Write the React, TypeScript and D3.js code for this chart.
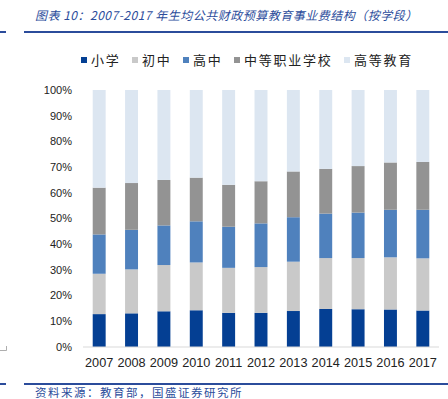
import React from 'react';
import * as d3 from 'd3';

const years = ['2007', '2008', '2009', '2010', '2011', '2012', '2013', '2014', '2015', '2016', '2017'];
const seriesNames = ['小学', '初中', '高中', '中等职业学校', '高等教育'];
const seriesColors = ['#043f93', '#c9c9c9', '#4f81bd', '#939393', '#dce6f1'];

// percent share of each level, per year
const primary = [12.8, 13.1, 13.9, 14.3, 13.3, 13.3, 14.0, 14.8, 14.7, 14.6, 14.2];
const juniorMid = [15.7, 17.1, 18.0, 18.6, 17.5, 17.8, 19.2, 19.8, 19.9, 20.3, 20.3];
const seniorHigh = [15.3, 15.4, 15.4, 16.0, 16.0, 17.0, 17.3, 17.3, 17.7, 18.5, 18.9];
const vocational = [18.2, 18.2, 17.7, 17.0, 16.3, 16.4, 17.8, 17.4, 18.1, 18.4, 18.6];
const higher = years.map((_, i) => 100 - primary[i] - juniorMid[i] - seniorHigh[i] - vocational[i]);

const yTicks = [0, 10, 20, 30, 40, 50, 60, 70, 80, 90, 100];

const titleText = '图表 10：2007-2017 年生均公共财政预算教育事业费结构（按学段）';
const sourceText = '资料来源：教育部，国盛证券研究所';

const W = 448;
const H = 399;
const margin = { top: 90, right: 9, bottom: 52, left: 83 };
const innerW = W - margin.left - margin.right;
const innerH = H - margin.top - margin.bottom;
const navy = '#2b4c9b';

const App = () => {
	const table = years.map((y, i) => ({
		year: y,
		[seriesNames[0]]: primary[i],
		[seriesNames[1]]: juniorMid[i],
		[seriesNames[2]]: seniorHigh[i],
		[seriesNames[3]]: vocational[i],
		[seriesNames[4]]: higher[i],
	}));
	const stacked = d3.stack<any>().keys(seriesNames)(table);

	const xScale = d3.scaleBand().domain(years).range([0, innerW]).paddingInner(0.6).paddingOuter(0.3);
	const yScale = d3.scaleLinear().domain([0, 100]).range([innerH, 0]);

	// legend layout
	const legendFont = 13;
	const legendSpacing = 1.75;
	let lx = 81;
	const legendItems = seriesNames.map((name, i) => {
		const item = { name, x: lx, color: seriesColors[i] };
		lx += 10 + name.length * (legendFont + legendSpacing) + 11.5;
		return item;
	});

	return (
		<svg
			width={W}
			height={H}
			style={{ position: 'absolute', left: 0, top: 0, background: '#fff' }}
			fontFamily="'Liberation Sans', Arial, sans-serif"
		>
			{/* title */}
			<text
				x={35}
				y={20}
				fill={navy}
				fontSize={12}
				fontStyle='italic'
				letterSpacing={0.5}
				fontFamily="'Noto Sans CJK SC', sans-serif"
			>
				{titleText}
			</text>
			<rect x={0} y={31} width={6} height={2} fill={navy} />
			<rect x={24} y={31} width={W - 24} height={2} fill={navy} />

			{/* legend */}
			<g className='legend'>
				{legendItems.map((d) => (
					<g key={d.name} transform={`translate(${d.x}, 57)`}>
						<rect width={6} height={6} fill={d.color} />
						<text
							x={10}
							y={3}
							dy='0.36em'
							fontSize={legendFont}
							letterSpacing={legendSpacing}
							fill='#222'
							fontFamily="'Noto Sans CJK SC', sans-serif"
						>
							{d.name}
						</text>
					</g>
				))}
			</g>

			<g transform={`translate(${margin.left}, ${margin.top})`}>
				{/* bars */}
				{stacked.map((layer, li) => (
					<g key={layer.key} fill={seriesColors[li]}>
						{layer.map((seg, i) => (
							<rect
								key={years[i]}
								x={xScale(years[i])}
								y={yScale(seg[1])}
								width={xScale.bandwidth()}
								height={yScale(seg[0]) - yScale(seg[1])}
							/>
						))}
					</g>
				))}

				{/* baseline */}
				<line x1={0} x2={innerW} y1={innerH} y2={innerH} stroke='#d9d9d9' />

				{/* y labels */}
				{yTicks.map((v) => (
					<text key={v} x={-11} y={yScale(v)} dy='0.35em' textAnchor='end' fontSize={11} fill='#222'>
						{v + '%'}
					</text>
				))}

				{/* x labels */}
				{years.map((y) => (
					<text
						key={y}
						x={xScale(y) + xScale.bandwidth() / 2}
						y={innerH + 20}
						textAnchor='middle'
						fontSize={12.7}
						fill='#222'
					>
						{y}
					</text>
				))}
			</g>

			{/* small corner mark */}
			<path d='M0,350.5 H6.5 V346' fill='none' stroke='#999' strokeWidth={0.8} />

			{/* source */}
			<rect x={0} y={383} width={6} height={2} fill={navy} />
			<rect x={24} y={383} width={W - 24} height={2} fill={navy} />
			<text
				x={35}
				y={397}
				fill={navy}
				fontSize={11.5}
				letterSpacing={1.5}
				fontFamily="'Noto Sans CJK SC', sans-serif"
			>
				{sourceText}
			</text>
		</svg>
	);
};

export default App;
